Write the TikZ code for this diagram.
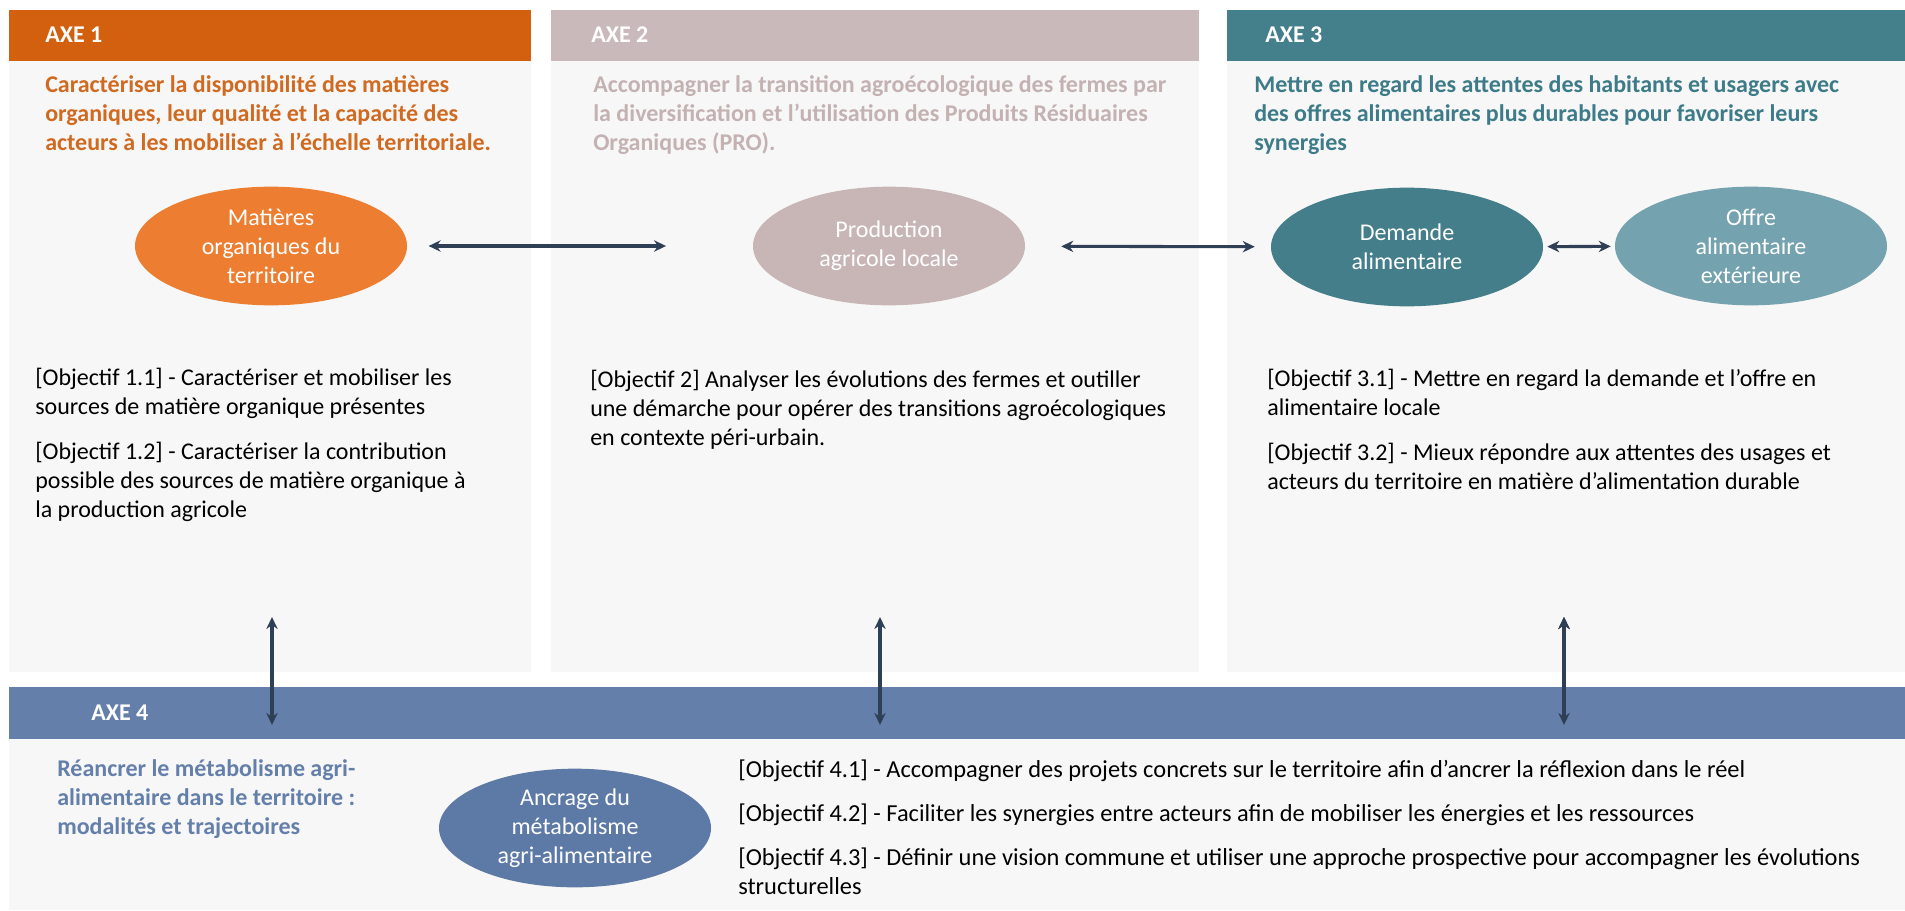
\documentclass[tikz,border=0pt]{standalone}
\usepackage{fontspec}
\setmainfont{Carlito}
\usetikzlibrary{positioning,shapes.geometric,arrows.meta}

\definecolor{axeun}{HTML}{D2600F}
\definecolor{axeuntxt}{HTML}{D06A20}
\definecolor{axeunell}{HTML}{EC7D31}
\definecolor{axedeux}{HTML}{C9B9BA}
\definecolor{axedeuxtxt}{HTML}{C4B2B2}
\definecolor{axedeuxell}{HTML}{C8B6B6}
\definecolor{axetrois}{HTML}{44808C}
\definecolor{axetroistxt}{HTML}{3D7B88}
\definecolor{axetroisell}{HTML}{447E8B}
\definecolor{axetroisclair}{HTML}{74A2AE}
\definecolor{axequatre}{HTML}{6480AA}
\definecolor{axequatreell}{HTML}{5D79A6}
\definecolor{fond}{HTML}{F7F7F7}
\definecolor{fleche}{HTML}{2F3F55}

\begin{document}
\begin{tikzpicture}[x=0.75pt,y=-0.75pt,
    txt/.style={font=\fontsize{18}{21.75}\selectfont, align=left, anchor=base west, inner sep=0pt},
    titre/.style={txt, font=\fontsize{18}{21.75}\selectfont\bfseries},
    entete/.style={anchor=west, inner sep=0pt, text=white, font=\fontsize{18}{21.75}\selectfont\bfseries},
    bulle/.style={ellipse, minimum width=204pt, minimum height=89pt, inner sep=-2pt, align=center,
                  text=white, font=\fontsize{18}{21.75}\selectfont},
    arr/.style={{Stealth[length=9pt,width=8.5pt]}-{Stealth[length=9pt,width=8.5pt]}, line width=2.3pt, draw=fleche}]
  \useasboundingbox (0,0) rectangle (1905,910);

  % panneaux
  \fill[fond] (9,61) rectangle (531,672);
  \fill[fond] (551,61) rectangle (1199,672);
  \fill[fond] (1227,61) rectangle (1905,672);
  \fill[fond] (9,739) rectangle (1905,910);
  \fill[axeun] (9,10) rectangle (531,61);
  \fill[axedeux] (551,10) rectangle (1199,61);
  \fill[axetrois] (1227,10) rectangle (1905,61);
  \fill[axequatre] (9,687) rectangle (1905,739);

  \node[entete] (axe1) at (45,35) {AXE 1};
  \node[entete] (axe2) at (591,35) {AXE 2};
  \node[entete] (axe3) at (1265,35) {AXE 3};
  \node[entete] (axe4) at (91,713) {AXE 4};

  % titres (base = derniere ligne)
  \node[titre, text=axeuntxt] (t1) at (45,150) {Caractériser la disponibilité des matières\\organiques, leur qualité et la capacité des\\acteurs à les mobiliser à l’échelle territoriale.};
  \node[titre, text=axedeuxtxt] (t2) at (593,150) {Accompagner la transition agroécologique des fermes par\\la diversification et l’utilisation des Produits Résiduaires\\Organiques (PRO).};
  \node[titre, text=axetroistxt] (t3) at (1254,150) {Mettre en regard les attentes des habitants et usagers avec\\des offres alimentaires plus durables pour favoriser leurs\\synergies};
  \node[titre, text=axequatre] (t4) at (57,834) {Réancrer le métabolisme agri-\\alimentaire dans le territoire :\\modalités et trajectoires};

  % bulles
  \node[bulle, fill=axeunell] (mat) at (271,246) {Matières\\organiques du\\territoire};
  \node[bulle, fill=axedeuxell] (prod) at (889,246) {Production\\agricole locale};
  \node[bulle, fill=axetroisell] (dem) at (1407,247) {Demande\\alimentaire};
  \node[bulle, fill=axetroisclair] (off) at (1751,246) {Offre\\alimentaire\\extérieure};
  \node[bulle, fill=axequatreell] (anc) at (575,828) {Ancrage du\\métabolisme\\agri-alimentaire};

  % objectifs
  \node[txt] (o1) at (35,517) {[Objectif 1.1] - Caractériser et mobiliser les\\sources de matière organique présentes\\[12pt][Objectif 1.2] - Caractériser la contribution\\possible des sources de matière organique à\\la production agricole};
  \node[txt] (o2) at (590,445) {[Objectif 2] Analyser les évolutions des fermes et outiller\\une démarche pour opérer des transitions agroécologiques\\en contexte péri-urbain.};
  \node[txt] (o3) at (1267,489) {[Objectif 3.1] - Mettre en regard la demande et l’offre en\\alimentaire locale\\[12pt][Objectif 3.2] - Mieux répondre aux attentes des usages et\\acteurs du territoire en matière d’alimentation durable};
  \node[txt, font=\fontsize{18.3}{21.75}\selectfont] (o4) at (738,894) {[Objectif 4.1] - Accompagner des projets concrets sur le territoire afin d’ancrer la réflexion dans le réel\\[11pt][Objectif 4.2] - Faciliter les synergies entre acteurs afin de mobiliser les énergies et les ressources\\[11pt][Objectif 4.3] - Définir une vision commune et utiliser une approche prospective pour accompagner les évolutions\\structurelles};

  % liens
  \coordinate (h1) at (272,617);
  \coordinate (b1) at (272,725);
  \coordinate (h2) at (880,617);
  \coordinate (b2) at (880,725);
  \coordinate (h3) at (1564,617);
  \coordinate (b3) at (1564,725);
  \path[arr]
    (mat) edge[shorten <=16pt, shorten >=65pt] (prod)
    (prod) edge[shorten <=27pt, shorten >=12pt] (dem)
    (dem) edge[shorten <=3pt, shorten >=3pt] (off)
    (h1) edge (b1)
    (h2) edge (b2)
    (h3) edge (b3);
\end{tikzpicture}
\end{document}
